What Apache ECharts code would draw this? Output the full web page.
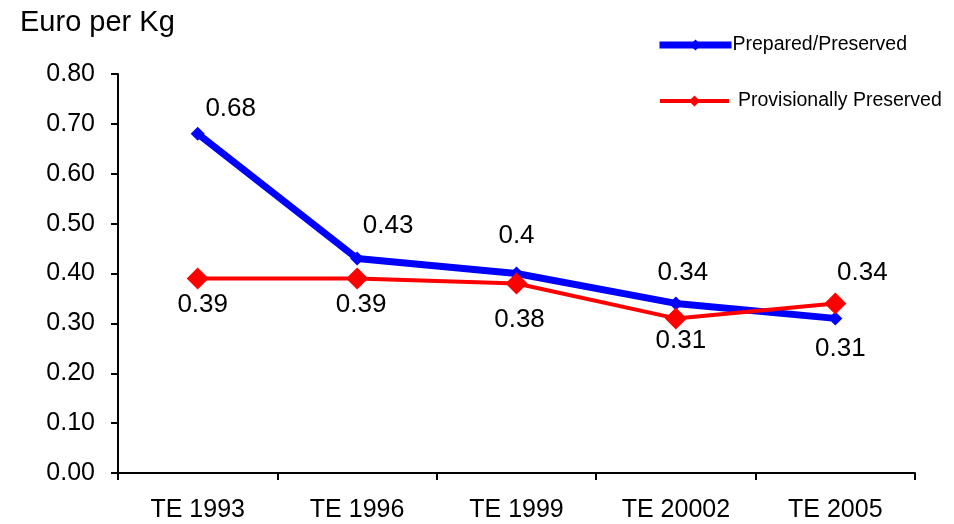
<!DOCTYPE html>
<html>
<head>
<meta charset="utf-8">
<script src="https://cdn.jsdelivr.net/npm/echarts@6/dist/echarts.min.js"></script>
<style>
  html, body { margin: 0; padding: 0; background: #fff; }
  #chart { width: 954px; height: 524px; }
</style>
</head>
<body>
<div id="chart"></div>
<script>
// Unit values (Euro per Kg) by triennium average
const categories = ['TE 1993', 'TE 1996', 'TE 1999', 'TE 20002', 'TE 2005'];
const preparedPreserved = [0.68, 0.43, 0.40, 0.34, 0.31];
const provisionallyPreserved = [0.39, 0.39, 0.38, 0.31, 0.34];

// Label placement around each point
const blueOffsets = [[33, -25], [31, -33], [0, -38], [7, -31], [5, 30]];
const redOffsets = [[5, 26], [4, 26], [3, 36], [5, 22], [27, -31]];

const font = 'Liberation Sans, Arial, sans-serif';

function withLabels(values, offsets) {
  return values.map((v, i) => ({
    value: v,
    label: { offset: offsets[i] }
  }));
}

const chart = echarts.init(document.getElementById('chart'), null, { renderer: 'canvas' });

const legendText = { fontSize: 19.5, color: '#000', fontFamily: font };

chart.setOption({
  animation: false,
  backgroundColor: '#ffffff',
  textStyle: { fontFamily: font },
  grid: { left: 118, right: 39, top: 74, bottom: 51, containLabel: false },
  graphic: [{
    type: 'text',
    left: 20,
    top: 8,
    style: { text: 'Euro per Kg', font: '29px ' + font, fill: '#000' }
  }],
  legend: [
    {
      left: 656,
      top: 35,
      itemGap: 0,
      itemWidth: 72,
      itemHeight: 14,
      padding: [0, 0, 0, 0],
      textStyle: Object.assign({ padding: [0, 0, 0, -4] }, legendText),
      data: [{ name: 'Prepared/Preserved', lineStyle: { width: 7 } }]
    },
    {
      left: 658,
      top: 91,
      itemGap: 0,
      itemWidth: 69,
      itemHeight: 14,
      padding: [0, 0, 0, 0],
      textStyle: Object.assign({ padding: [0, 0, 0, 4] }, legendText),
      data: [{ name: 'Provisionally Preserved', lineStyle: { width: 4 } }]
    }
  ],
  xAxis: {
    type: 'category',
    data: categories,
    boundaryGap: true,
    axisLine: { lineStyle: { color: '#000', width: 2 } },
    axisTick: { show: true, length: 7, lineStyle: { color: '#000', width: 2 } },
    axisLabel: { color: '#000', fontSize: 25, margin: 25, fontFamily: font },
    splitLine: { show: false }
  },
  yAxis: {
    type: 'value',
    min: 0,
    max: 0.8,
    interval: 0.1,
    axisLine: { show: true, lineStyle: { color: '#000', width: 2 } },
    axisTick: { show: true, length: 7, lineStyle: { color: '#000', width: 2 } },
    axisLabel: {
      color: '#000', fontSize: 25, margin: 23, fontFamily: font,
      formatter: v => v.toFixed(2)
    },
    splitLine: { show: false }
  },
  series: [
    {
      name: 'Prepared/Preserved',
      type: 'line',
      data: withLabels(preparedPreserved, blueOffsets),
      color: '#0000ff',
      lineStyle: { color: '#0000ff', width: 7 },
      symbol: 'diamond',
      symbolSize: 14,
      itemStyle: { color: '#0000ff' },
      label: {
        show: true,
        position: 'inside',
        color: '#000',
        fontSize: 26,
        fontFamily: font,
        formatter: p => String(p.value)
      },
      z: 2
    },
    {
      name: 'Provisionally Preserved',
      type: 'line',
      data: withLabels(provisionallyPreserved, redOffsets),
      color: '#ff0000',
      lineStyle: { color: '#ff0000', width: 4 },
      symbol: 'diamond',
      symbolSize: 22,
      itemStyle: { color: '#ff0000' },
      label: {
        show: true,
        position: 'inside',
        color: '#000',
        fontSize: 26,
        fontFamily: font,
        formatter: p => String(p.value)
      },
      z: 3
    }
  ]
});
</script>
</body>
</html>
